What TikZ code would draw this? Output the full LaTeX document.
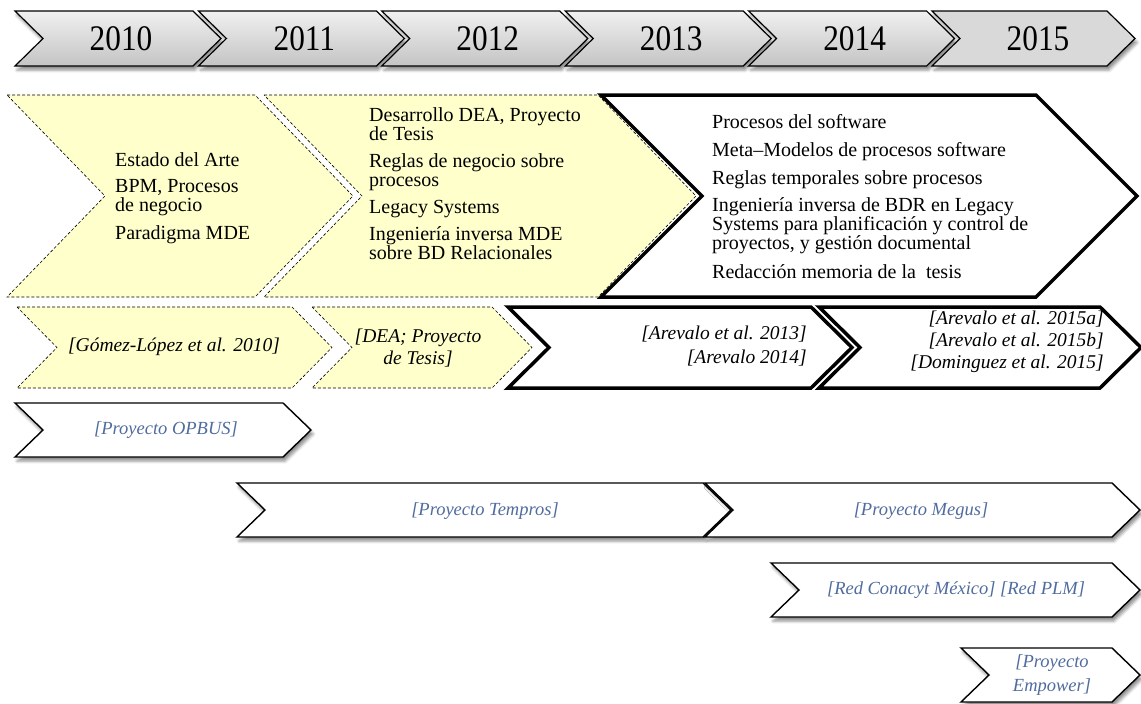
\documentclass[tikz,border=0pt]{standalone}
\usepackage{fontspec}
\setmainfont{Liberation Serif}
\usepackage{graphicx}
\usetikzlibrary{shadows.blur}

\definecolor{notepad}{RGB}{255,255,204}
\definecolor{projblue}{RGB}{80,108,158}
\definecolor{yeartop}{RGB}{240,240,240}
\definecolor{yearbot}{RGB}{196,196,196}
\definecolor{yearflat}{RGB}{217,217,217}

% chevron: [style]{left}{top}{bottom}{top-right end}{point depth}
\newcommand\chevron[6][]{%
  \path[#1] (#2,#3) -- (#5,#3) -- ({#5+#6},{(#3+#4)/2}) -- (#5,#4)
    -- (#2,#4) -- ({#2+#6},{(#3+#4)/2}) -- cycle;}

\tikzset{
  softshadow/.style={blur shadow={shadow xshift=2pt, shadow yshift=-4pt,
      shadow blur radius=3pt, shadow opacity=45}},
  yearbox/.style={draw=black, line width=1.2pt, line join=miter,
      top color=yeartop, bottom color=yearbot, softshadow},
  yearlast/.style={draw=black, line width=1.2pt, line join=miter,
      fill=yearflat, softshadow},
  yearlabel/.style={inner sep=0pt, font=\fontsize{36}{36}\selectfont},
  notebox/.style={draw=black, line width=0.6pt, dash pattern=on 3pt off 2pt,
      fill=notepad},
  heavybox/.style={draw=black, line width=3.5pt, line join=miter, fill=white},
  projbox/.style={draw=black, line width=1.4pt, line join=miter, fill=white,
      softshadow},
  topic/.style={anchor=base west, inner sep=0pt,
      font=\fontsize{20}{19}\selectfont},
  ref/.style={inner sep=0pt, font=\fontsize{19.5}{22}\selectfont\itshape},
  proj/.style={inner sep=0pt, text=projblue,
      font=\fontsize{18.5}{24}\selectfont\itshape},
}

\begin{document}
\begin{tikzpicture}[x=1pt, y=-1pt]
\useasboundingbox (0,0) rectangle (1141,704);

% ---- year ribbon ----
\foreach \yr [count=\i from 0] in {2010,2011,2012,2013,2014} {
  \pgfmathsetmacro\lx{15+183.4*\i}
  \chevron[yearbox]{\lx}{11}{66}{\lx+178}{28}
  \node[yearlabel] (y\yr) at (\lx+106,39) {\scalebox{0.87}[1]{\yr}};
}
\chevron[yearlast]{932}{11}{66}{1107}{28}
\node[yearlabel] (y2015) at (1038,39) {\scalebox{0.87}[1]{2015}};

% ---- research topics ----
\chevron[notebox]{7}{95}{297}{255}{98}
\chevron[notebox]{264}{95}{297}{598}{98}
\chevron[heavybox]{601}{95}{297}{1036}{101}

\foreach \yy/\tx [count=\i] in {166/{Estado del Arte}, 192/{BPM, Procesos},
    211/{de negocio}, 239/{Paradigma MDE}}
  \node[topic] (ta\i) at (115,\yy) {\tx};

\foreach \yy/\tx [count=\i] in {121/{Desarrollo DEA, Proyecto}, 140/{de Tesis},
    167/{Reglas de negocio sobre}, 186/{procesos}, 213/{Legacy Systems},
    240/{Ingeniería inversa MDE}, 259/{sobre BD Relacionales}}
  \node[topic] (tb\i) at (369,\yy) {\tx};

\foreach \yy/\tx [count=\i] in {128/{Procesos del software},
    156/{Meta–Modelos de procesos software},
    184/{Reglas temporales sobre procesos},
    211/{Ingeniería inversa de BDR en Legacy},
    230/{Systems para planificación y control de},
    249/{proyectos, y gestión documental},
    278/{Redacción memoria de la~ tesis}}
  \node[topic] (tc\i) at (712,\yy) {\tx};

% ---- publications ----
\chevron[notebox]{17}{307}{388}{292}{40}
\chevron[notebox]{312}{307}{388}{492}{40}
\chevron[heavybox]{508}{307}{388}{811}{41}
\chevron[heavybox]{819}{307}{388}{1100}{41}

\node[ref] (pa) at (174,347) {[Gómez-López et al. 2010]};
\node[ref, align=center] (pb) at (418,348) {[DEA; Proyecto\\{de Tesis]}};
\node[ref, align=right, anchor=east, font=\fontsize{19.5}{24}\selectfont\itshape]
  (pc) at (807,346) {[Arevalo et al. 2013]\\{[Arevalo 2014]}};
\node[ref, align=right, anchor=east] (pd) at (1104,342)
  {[Arevalo et al. 2015a]\\{[Arevalo et al. 2015b]}\\{[Dominguez et al. 2015]}};

% ---- projects ----
\chevron[projbox]{15}{403}{457}{283}{28}
\node[proj] (opbus) at (166,430) {[Proyecto OPBUS]};

\chevron[projbox]{237}{483}{537}{703}{28}
\node[proj] (tempros) at (485,511) {[Proyecto Tempros]};
\chevron[projbox]{705}{483}{537}{1112}{28}
\node[proj] (megus) at (921,511) {[Proyecto Megus]};

\chevron[projbox]{771}{563}{617}{1112}{28}
\node[proj] (redes) at (956,590) {[Red Conacyt México] [Red PLM]};

\chevron[projbox]{961}{648}{702}{1112}{28}
\node[proj, align=center] (empower) at (1052,675) {[Proyecto\\{Empower]}};
\end{tikzpicture}
\end{document}
